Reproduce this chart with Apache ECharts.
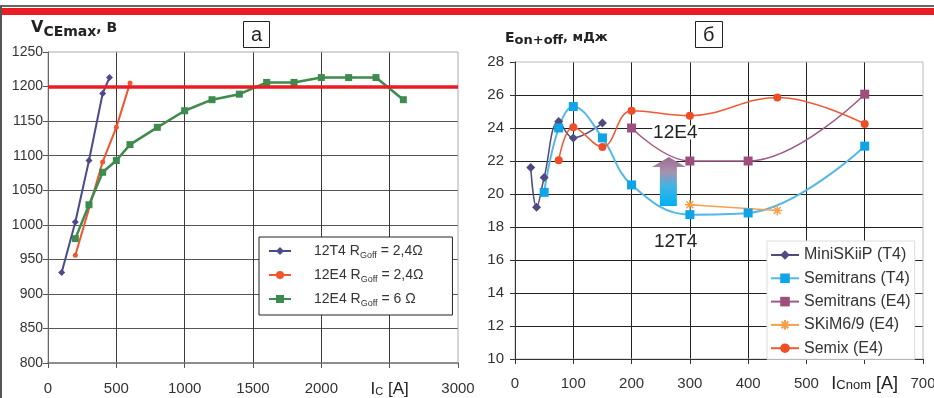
<!DOCTYPE html>
<html>
<head>
<meta charset="utf-8">
<script src="https://cdn.jsdelivr.net/npm/echarts@6/dist/echarts.min.js"></script>
<style>
html, body { margin: 0; padding: 0; background: #fff; }
#wrap { position: relative; width: 934px; height: 398px; background: #fff; }
#grid, #main { position: absolute; left: 0; top: 0; width: 934px; height: 398px; }
</style>
</head>
<body>
<div id="wrap">
  <div id="grid"></div>
  <div id="main"></div>
</div>
<script>
// --- chart a: VCEmax vs IC ---
var vceLimit = 1200;
var t4Ic    = [100, 200, 300, 400, 450];
var t4Vce   = [931, 1004, 1093, 1190, 1213];
var e4Ic    = [200, 400, 500, 600];
var e4Vce   = [956, 1091, 1141, 1205];
var e4r6Ic  = [200, 300, 400, 500, 600, 800, 1000, 1200, 1400, 1600, 1800, 2000, 2200, 2400, 2600];
var e4r6Vce = [980, 1029, 1076, 1093, 1116, 1141, 1165, 1181, 1189, 1206, 1206, 1213, 1213, 1213, 1181];
var leftNames  = ['12T4 R_Goff = 2,4Ω', '12E4 R_Goff = 2,4Ω', '12E4 R_Goff = 6 Ω'];
var leftXTicks = [0, 500, 1000, 1500, 2000, 2500, 3000];
var leftYTicks = [800, 850, 900, 950, 1000, 1050, 1100, 1150, 1200, 1250];

// --- chart б: Eon+off vs ICnom ---
var miniIc  = [27, 37, 50, 75, 100, 150];
var miniE   = [21.6, 19.2, 21.0, 24.4, 23.4, 24.3];
var stT4Ic  = [50, 75, 100, 150, 200, 300, 400, 600];
var stT4E   = [20.1, 24.0, 25.3, 23.4, 20.55, 18.75, 18.85, 22.9];
var stE4Ic  = [200, 300, 400, 600];
var stE4E   = [24.0, 22.0, 22.0, 26.05];
var skimIc  = [300, 450];
var skimE   = [19.35, 19.0];
var semixIc = [75, 100, 150, 200, 300, 450, 600];
var semixE  = [22.05, 24.05, 22.85, 25.05, 24.75, 25.85, 24.25];
var rightNames  = ['MiniSKiiP (T4)', 'Semitrans (T4)', 'Semitrans (E4)', 'SKiM6/9 (E4)', 'Semix (E4)'];
var rightXTicks = [0, 100, 200, 300, 400, 500, 600, 700];
var rightYTicks = [10, 12, 14, 16, 18, 20, 22, 24, 26, 28];

function pts(xs, ys) {
    return xs.map(function (x, i) { return [x, ys[i]]; });
}

var FONT = 'Liberation Sans, Arial, sans-serif';
var BOLD = 'DejaVu Sans, Verdana, sans-serif';
var asterisk = 'path://M5,0L5,10M0,5L10,5M1.5,1.5L8.5,8.5M8.5,1.5L1.5,8.5';
var arrow = 'path://M17,0L34,10L25,10L25,49L8,49L8,10L0,10Z';

var GRIDS = [
    { left: 48, top: 52, width: 410, height: 311, outerBoundsMode: 'none' },
    { left: 515, top: 62, width: 408, height: 297, outerBoundsMode: 'none' }
];

function range(ticks) {
    return { min: ticks[0], max: ticks[ticks.length - 1], interval: ticks[1] - ticks[0] };
}

// ---- layer 1: grid lines only (sits under the chart) ----
function lineAxis(gi, ticks, color) {
    var r = range(ticks);
    return {
        gridIndex: gi, type: 'value', min: r.min, max: r.max, interval: r.interval,
        axisLine: { show: false },
        axisTick: { show: false },
        axisLabel: { show: false },
        splitLine: { show: true, showMinLine: false, showMaxLine: false, lineStyle: { color: color, width: 1 } }
    };
}

var gridChart = echarts.init(document.getElementById('grid'));
gridChart.setOption({
    animation: false,
    backgroundColor: '#fff',
    grid: GRIDS,
    xAxis: [lineAxis(0, leftXTicks, '#3a3a3a'), lineAxis(1, rightXTicks, '#222')],
    yAxis: [lineAxis(0, leftYTicks, '#555'), lineAxis(1, rightYTicks, '#222')],
    series: []
});

// ---- layer 2: axes, lines, labels ----
var chart = echarts.init(document.getElementById('main'));

var lx = range(leftXTicks), ly = range(leftYTicks);
var rx = range(rightXTicks), ry = range(rightYTicks);

var option = {
    animation: false,
    backgroundColor: 'transparent',
    textStyle: { fontFamily: FONT },
    title: [
        {
            left: 31, top: 17, padding: 0,
            text: '{v|V}{s|CEmax}{c|, В}',
            textStyle: {
                rich: {
                    v: { fontSize: 16, fontWeight: 'bold', color: '#222', lineHeight: 22, fontFamily: BOLD },
                    s: { fontSize: 14, fontWeight: 'bold', color: '#222', lineHeight: 12, verticalAlign: 'bottom', fontFamily: BOLD },
                    c: { fontSize: 14, fontWeight: 'bold', color: '#222', lineHeight: 22, fontFamily: BOLD }
                }
            }
        },
        {
            left: 505, top: 29, padding: 0,
            text: '{e|E}{s|on+off}{c|, мДж}',
            textStyle: {
                rich: {
                    e: { fontSize: 14, fontWeight: 'bold', color: '#222', lineHeight: 18, fontFamily: BOLD },
                    s: { fontSize: 13, fontWeight: 'bold', color: '#222', lineHeight: 10, verticalAlign: 'bottom', fontFamily: BOLD },
                    c: { fontSize: 13, fontWeight: 'bold', color: '#222', lineHeight: 18, fontFamily: BOLD }
                }
            }
        },
        {
            left: 243, top: 21, text: 'а', padding: [4, 8, 3, 8],
            borderColor: '#222', borderWidth: 1, backgroundColor: '#fff',
            textStyle: { fontSize: 20, fontWeight: 'normal', color: '#222', lineHeight: 20, fontFamily: FONT }
        },
        {
            left: 695, top: 21, text: 'б', padding: [4, 8, 3, 8],
            borderColor: '#222', borderWidth: 1, backgroundColor: '#fff',
            textStyle: { fontSize: 20, fontWeight: 'normal', color: '#222', lineHeight: 20, fontFamily: FONT }
        }
    ],
    graphic: [
        { type: 'rect', shape: { x: 0, y: 5, width: 934, height: 2 }, style: { fill: '#666' }, silent: true },
        { type: 'rect', shape: { x: 0, y: 8, width: 934, height: 7 }, style: { fill: '#ec1c24' }, silent: true },
        { type: 'rect', shape: { x: 0, y: 6, width: 2, height: 392 }, style: { fill: '#555' }, silent: true }
    ],
    legend: [
        {
            left: 259, top: 237, orient: 'vertical',
            data: leftNames,
            itemWidth: 22, itemHeight: 10, itemGap: 8,
            padding: [7, 29, 7, 9],
            borderColor: '#222', borderWidth: 1, backgroundColor: '#fff',
            formatter: function (name) {
                var m = name.split('_');
                var rest = m[1].substring(4);
                return '{n|' + m[0] + '}{s|Goff}{n|' + rest + '}';
            },
            textStyle: {
                padding: [0, 0, 0, 18],
                rich: {
                    n: { fontSize: 14, lineHeight: 18, color: '#333', fontFamily: FONT },
                    s: { fontSize: 9, lineHeight: 9, verticalAlign: 'bottom', color: '#333', fontFamily: FONT }
                }
            }
        },
        {
            left: 767, top: 241, orient: 'vertical',
            data: rightNames,
            itemWidth: 28, itemHeight: 12, itemGap: 5.3,
            padding: [5, 4, 2, 3],
            borderColor: '#ddd', borderWidth: 1, backgroundColor: '#fff',
            textStyle: { fontSize: 16, lineHeight: 18, color: '#333', fontFamily: FONT }
        }
    ],
    grid: [
        { left: 48, top: 52, width: 410, height: 311, outerBoundsMode: 'none',
          show: true, borderColor: '#aaa', borderWidth: 1, backgroundColor: 'transparent' },
        { left: 515, top: 62, width: 408, height: 297, outerBoundsMode: 'none',
          show: true, borderColor: '#bbb', borderWidth: 1, backgroundColor: 'transparent' }
    ],
    xAxis: [
        {
            gridIndex: 0, type: 'value', min: lx.min, max: lx.max, interval: lx.interval,
            axisLine: { lineStyle: { color: '#777', width: 1.5 } },
            axisTick: { show: true, length: 5, lineStyle: { color: '#555' } },
            splitLine: { show: false },
            axisLabel: {
                margin: 18, fontSize: 15, lineHeight: 16, color: '#333', hideOverlap: false,
                formatter: function (v) {
                    return v === 2500 ? '{b|I}{s|C}{b| [A]}' : String(v);
                },
                rich: {
                    b: { fontSize: 17, lineHeight: 16, color: '#222', fontFamily: FONT },
                    s: { fontSize: 11, lineHeight: 6, verticalAlign: 'bottom', color: '#222', fontFamily: FONT }
                }
            }
        },
        {
            gridIndex: 1, type: 'value', min: rx.min, max: rx.max, interval: rx.interval,
            axisLine: { lineStyle: { color: '#333', width: 1 } },
            axisTick: { show: true, length: 5, lineStyle: { color: '#333' } },
            splitLine: { show: false },
            axisLabel: {
                margin: 17, fontSize: 15, lineHeight: 16, color: '#333', hideOverlap: false,
                formatter: function (v) {
                    return v === 600 ? '{b|I}{s|Cnom}{b| [A]}' : String(v);
                },
                rich: {
                    b: { fontSize: 18, lineHeight: 16, color: '#222', fontFamily: FONT },
                    s: { fontSize: 13, lineHeight: 8, verticalAlign: 'bottom', color: '#222', fontFamily: FONT }
                }
            }
        }
    ],
    yAxis: [
        {
            gridIndex: 0, type: 'value', min: ly.min, max: ly.max, interval: ly.interval,
            axisLine: { show: true, lineStyle: { color: '#666', width: 1 } },
            axisTick: { show: true, length: 5, lineStyle: { color: '#555' } },
            splitLine: { show: false },
            axisLabel: { margin: 5, fontSize: 14, color: '#333', formatter: function (v) { return String(v); } }
        },
        {
            gridIndex: 1, type: 'value', min: ry.min, max: ry.max, interval: ry.interval,
            axisLine: { show: true, lineStyle: { color: '#333', width: 1 } },
            axisTick: { show: true, length: 5, lineStyle: { color: '#333' } },
            splitLine: { show: false },
            axisLabel: { margin: 11, fontSize: 15, color: '#333', formatter: function (v) { return String(v); } }
        }
    ],
    series: [
        {
            name: leftNames[0], type: 'line', xAxisIndex: 0, yAxisIndex: 0,
            data: pts(t4Ic, t4Vce),
            symbol: 'diamond', symbolSize: 7,
            lineStyle: { color: '#4a4a8c', width: 2 },
            itemStyle: { color: '#4a4a8c' },
            markLine: {
                silent: true, symbol: 'none', label: { show: false },
                lineStyle: { color: '#ec1c24', width: 3.5, type: 'solid' },
                data: [{ yAxis: vceLimit }]
            },
            z: 3
        },
        {
            name: leftNames[1], type: 'line', xAxisIndex: 0, yAxisIndex: 0,
            data: pts(e4Ic, e4Vce),
            symbol: 'circle', symbolSize: 5,
            lineStyle: { color: '#f2542d', width: 2 },
            itemStyle: { color: '#f2542d' },
            z: 3
        },
        {
            name: leftNames[2], type: 'line', xAxisIndex: 0, yAxisIndex: 0,
            data: pts(e4r6Ic, e4r6Vce),
            symbol: 'rect', symbolSize: 7,
            lineStyle: { color: '#3d8b4e', width: 2.5 },
            itemStyle: { color: '#3d8b4e' },
            z: 3
        },
        {
            name: rightNames[0], type: 'line', xAxisIndex: 1, yAxisIndex: 1,
            data: pts(miniIc, miniE), smooth: 0.4,
            symbol: 'diamond', symbolSize: 9,
            lineStyle: { color: '#4f4a7f', width: 1.5 },
            itemStyle: { color: '#4f4a7f' }
        },
        {
            name: rightNames[1], type: 'line', xAxisIndex: 1, yAxisIndex: 1,
            data: pts(stT4Ic, stT4E), smooth: 0.4,
            symbol: 'rect', symbolSize: 9,
            lineStyle: { color: '#55b8e6', width: 2 },
            itemStyle: { color: '#0fa3e8' },
            markPoint: {
                silent: true,
                data: [
                    {
                        coord: [264, 20.76], symbol: arrow, symbolSize: [34, 49], symbolKeepAspect: false,
                        itemStyle: {
                            color: new echarts.graphic.LinearGradient(0, 0, 0, 1, [
                                { offset: 0, color: '#9b6d8d' },
                                { offset: 0.3, color: '#a890ad' },
                                { offset: 0.6, color: '#3fb4e6' },
                                { offset: 1, color: '#00b0f0' }
                            ])
                        },
                        label: { show: false }
                    },
                    {
                        coord: [275.5, 17.1], symbol: 'rect', symbolSize: [46, 14],
                        itemStyle: { color: '#fff' },
                        label: { show: true, position: 'inside', formatter: '12T4', fontSize: 19, color: '#222', fontFamily: FONT }
                    }
                ]
            }
        },
        {
            name: rightNames[2], type: 'line', xAxisIndex: 1, yAxisIndex: 1,
            data: pts(stE4Ic, stE4E), smooth: 0.4,
            symbol: 'rect', symbolSize: 9,
            lineStyle: { color: '#9e5a86', width: 1.5 },
            itemStyle: { color: '#9e4f7d' },
            markPoint: {
                silent: true,
                data: [
                    {
                        coord: [275, 23.72], symbol: 'rect', symbolSize: [46, 14],
                        itemStyle: { color: '#fff' },
                        label: { show: true, position: 'inside', formatter: '12E4', fontSize: 19, color: '#222', fontFamily: FONT }
                    }
                ]
            }
        },
        {
            name: rightNames[3], type: 'line', xAxisIndex: 1, yAxisIndex: 1,
            data: pts(skimIc, skimE),
            symbol: asterisk, symbolSize: 10,
            lineStyle: { color: '#f6a04d', width: 1.5 },
            itemStyle: { color: '#f6a04d', borderColor: '#f6a04d', borderWidth: 1.5 }
        },
        {
            name: rightNames[4], type: 'line', xAxisIndex: 1, yAxisIndex: 1,
            data: pts(semixIc, semixE), smooth: 0.4,
            symbol: 'circle', symbolSize: 8,
            lineStyle: { color: '#ef5a35', width: 1.5 },
            itemStyle: { color: '#ef4d25' }
        }
    ]
};

chart.setOption(option);
</script>
</body>
</html>
